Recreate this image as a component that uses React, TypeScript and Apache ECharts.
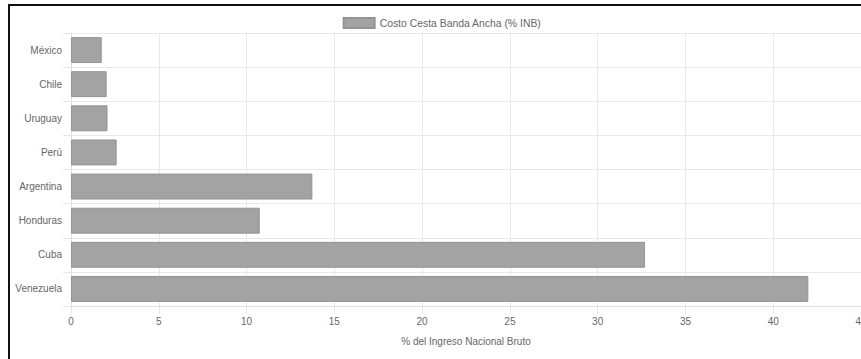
import React, { useEffect, useRef } from "react";
import * as echarts from "echarts";

const countries = ["México", "Chile", "Uruguay", "Perú", "Argentina", "Honduras", "Cuba", "Venezuela"];
const costValues = [1.75, 2.03, 2.08, 2.6, 13.75, 10.75, 32.7, 42.0];
const seriesName = "Costo Cesta Banda Ancha (% INB)";
const xAxisTitle = "% del Ingreso Nacional Bruto";

export default function App() {
  const ref = useRef<HTMLDivElement>(null);
  useEffect(() => {
    if (!ref.current) return;
    const chart = echarts.init(ref.current, undefined, { renderer: "svg" });
    const font = "Liberation Sans, Arial, sans-serif";
    chart.setOption({
      animation: false,
      textStyle: { fontFamily: font },
      legend: {
        top: 12,
        left: "center",
        itemWidth: 31,
        itemHeight: 10,
        itemGap: 6,
        textStyle: { color: "#666", fontSize: 10.4, fontFamily: font },
        data: [{ name: seriesName, icon: "rect" }],
      },
      grid: { left: 71, width: 790, top: 33, height: 273, containLabel: false, outerBoundsMode: "none" },
      xAxis: {
        type: "value",
        min: 0,
        max: 45,
        interval: 5,
        name: xAxisTitle,
        nameLocation: "middle",
        nameGap: 30,
        nameTextStyle: { color: "#666", fontSize: 10, fontFamily: font },
        axisLabel: { color: "#666", fontSize: 10, margin: 10, fontFamily: font },
        axisLine: { show: true, lineStyle: { color: "#e0e0e0" } },
        axisTick: { show: true, length: 8, inside: false, lineStyle: { color: "#e6e6e6" } },
        splitLine: { show: true, lineStyle: { color: "#e8e8e8" } },
      },
      yAxis: {
        type: "category",
        data: countries,
        inverse: true,
        boundaryGap: true,
        axisLabel: { color: "#666", fontSize: 10, margin: 9, fontFamily: font },
        axisLine: { show: true, lineStyle: { color: "#e0e0e0" } },
        axisTick: { show: true, length: 8, lineStyle: { color: "#e6e6e6" } },
        splitLine: { show: true, lineStyle: { color: "#e8e8e8" } },
      },
      series: [
        {
          name: seriesName,
          type: "bar",
          data: costValues,
          barCategoryGap: "24%",
          itemStyle: { color: "#a3a3a3", borderColor: "#939393", borderWidth: 1 },
        },
      ],
    });
    return () => chart.dispose();
  }, []);
  return (
    <div style={{ position: "absolute", left: 0, top: 0, width: 861, height: 359, background: "#fff", overflow: "hidden" }}>
      <div ref={ref} style={{ position: "absolute", left: 0, top: 0, width: 884, height: 359 }} />
      <div style={{ position: "absolute", left: 8, top: 4, width: 853, height: 2, background: "#111" }} />
      <div style={{ position: "absolute", left: 8, top: 4, width: 2, height: 355, background: "#111" }} />
    </div>
  );
}
